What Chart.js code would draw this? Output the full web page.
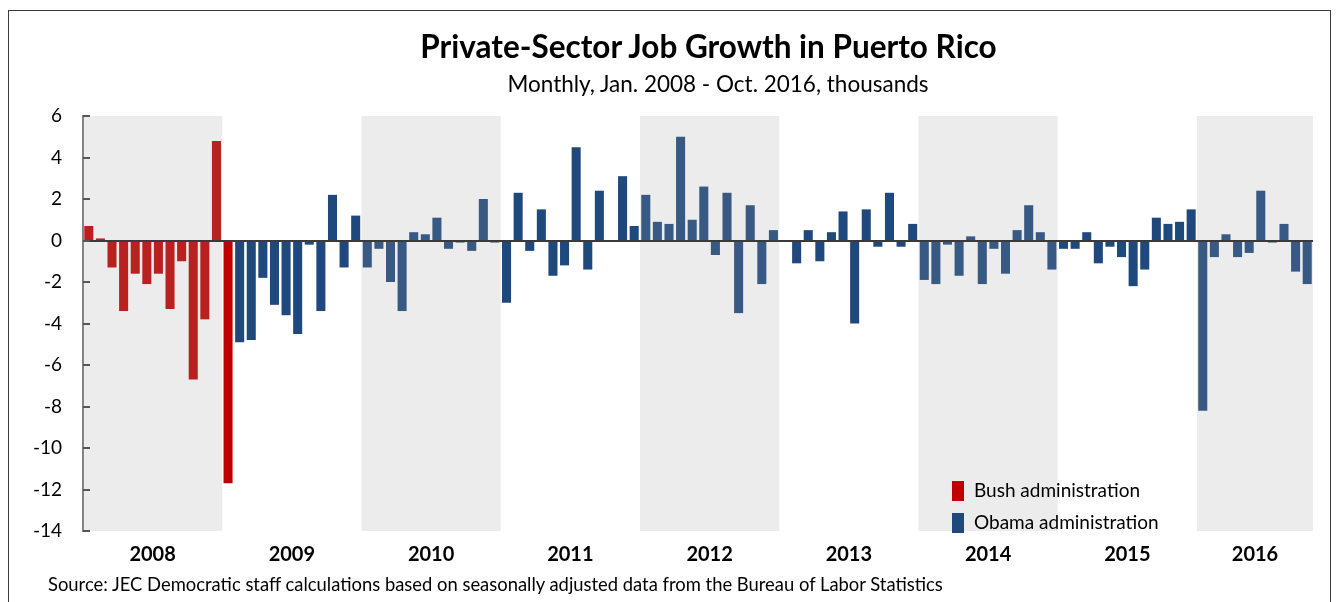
<!DOCTYPE html>
<html>
<head>
<meta charset="utf-8">
<script src="https://cdn.jsdelivr.net/npm/chart.js@4.4.1/dist/chart.umd.min.js"></script>
<style>
  body { margin: 0; background: #fff; }
  #frame { position: absolute; left: 8px; top: 10px; width: 1321px; height: 600px;
           border: 1.5px solid #3c3c3c; border-bottom: none; }
  #title { position: absolute; top: 27px; left: 0; width: 1417px; text-align: center;
           font: bold 31.5px Lato, sans-serif; color: #000; }
  #subtitle { position: absolute; top: 70px; left: 0; width: 1436px; text-align: center;
              font: 22.5px Lato, sans-serif; color: #000; }
  #source { position: absolute; top: 573px; left: 48px; font: 18.4px Lato, sans-serif; color: #000; }
  #wrap { position: absolute; left: 0; top: 0; width: 1338px; height: 602px; }
</style>
</head>
<body>
<div id="frame"></div>
<div id="wrap"><canvas id="jobChart" width="1338" height="602"></canvas></div>
<div id="title">Private-Sector Job Growth in Puerto Rico</div>
<div id="subtitle">Monthly, Jan. 2008 - Oct. 2016, thousands</div>
<div id="source">Source: JEC Democratic staff calculations based on seasonally adjusted data from the Bureau of Labor Statistics</div>
<script>
// tick labels along the bottom
var years = ['2008', '2009', '2010', '2011', '2012', '2013', '2014', '2015', '2016'];
var monthsInYear = [12, 12, 12, 12, 12, 12, 12, 12, 10];
var shadedYears = ['2008', '2010', '2012', '2014', '2016'];

// monthly change, thousands, Jan 2008 .. Oct 2016
var v2008 = [0.7, 0.1, -1.3, -3.4, -1.6, -2.1, -1.6, -3.3, -1.0, -6.7, -3.8, 4.8];
var v2009 = [-11.7, -4.9, -4.8, -1.8, -3.1, -3.6, -4.5, -0.2, -3.4, 2.2, -1.3, 1.2];
var v2010 = [-1.3, -0.4, -2.0, -3.4, 0.4, 0.3, 1.1, -0.4, -0.1, -0.5, 2.0, -0.1];
var v2011 = [-3.0, 2.3, -0.5, 1.5, -1.7, -1.2, 4.5, -1.4, 2.4, 0.0, 3.1, 0.7];
var v2012 = [2.2, 0.9, 0.8, 5.0, 1.0, 2.6, -0.7, 2.3, -3.5, 1.7, -2.1, 0.5];
var v2013 = [0.0, -1.1, 0.5, -1.0, 0.4, 1.4, -4.0, 1.5, -0.3, 2.3, -0.3, 0.8];
var v2014 = [-1.9, -2.1, -0.2, -1.7, 0.2, -2.1, -0.4, -1.6, 0.5, 1.7, 0.4, -1.4];
var v2015 = [-0.4, -0.4, 0.4, -1.1, -0.3, -0.8, -2.2, -1.4, 1.1, 0.8, 0.9, 1.5];
var v2016 = [-8.2, -0.8, 0.3, -0.8, -0.6, 2.4, -0.1, 0.8, -1.5, -2.1];

var bushMonths = 13; // Jan 2008 - Jan 2009

var allValues = [].concat(v2008, v2009, v2010, v2011, v2012, v2013, v2014, v2015, v2016);
var labels = [];
years.forEach(function (y, i) {
  for (var m = 1; m <= monthsInYear[i]; m++) labels.push(y + '-' + m);
});
var bushData = allValues.map(function (v, i) { return i < bushMonths ? v : null; });
var obamaData = allValues.map(function (v, i) { return i >= bushMonths ? v : null; });

// year starts in month units for the linear helper axis
var yearStart = [];
var acc = 0;
monthsInYear.forEach(function (n) { yearStart.push(acc); acc += n; });

var decor = {
  id: 'decor',
  afterDatasetsDraw: function (chart) {
    var ctx = chart.ctx, area = chart.chartArea;
    var xs = chart.scales.x2, ys = chart.scales.y;
    ctx.save();
    // shaded years (semi-transparent, over the bars)
    ctx.fillStyle = 'rgba(158,158,158,0.2)';
    years.forEach(function (y, i) {
      if (shadedYears.indexOf(y) < 0) return;
      var x0 = xs.getPixelForValue(yearStart[i]);
      var x1 = xs.getPixelForValue(yearStart[i] + monthsInYear[i]);
      ctx.fillRect(x0, area.top, x1 - x0, area.bottom - area.top);
    });
    // zero line
    var y0 = Math.round(ys.getPixelForValue(0));
    ctx.strokeStyle = '#3a3a3a';
    ctx.lineWidth = 2;
    ctx.beginPath();
    ctx.moveTo(area.left, y0);
    ctx.lineTo(area.right, y0);
    ctx.stroke();
    // inside tick marks on the y axis
    ctx.strokeStyle = '#555';
    ctx.lineWidth = 2;
    ys.ticks.forEach(function (t) {
      var py = Math.round(ys.getPixelForValue(t.value));
      ctx.beginPath();
      ctx.moveTo(area.left, py);
      ctx.lineTo(area.left + 7, py);
      ctx.stroke();
    });
    // legend inside plot
    ctx.font = '19px Lato, sans-serif';
    ctx.textBaseline = 'middle';
    chart.data.datasets.forEach(function (ds, i) {
      var ly = 491 + i * 32;
      ctx.fillStyle = ds.backgroundColor;
      ctx.fillRect(952, ly - 10, 12, 20);
      ctx.fillStyle = '#000';
      ctx.fillText(ds.label, 974, ly);
    });
    ctx.restore();
  }
};

var myContext = document.getElementById('jobChart').getContext('2d');
var myChart = new Chart(myContext, {
  type: 'bar',
  data: {
    labels: labels,
    datasets: [{
      label: 'Bush administration',
      backgroundColor: '#C00000',
      data: bushData
    }, {
      label: 'Obama administration',
      backgroundColor: '#1F487C',
      data: obamaData
    }]
  },
  options: {
    responsive: false,
    animation: false,
    devicePixelRatio: 1,
    barPercentage: 0.78,
    categoryPercentage: 1.0,
    layout: { padding: { top: 116, right: 25, left: 0, bottom: 31 } },
    plugins: {
      legend: { display: false },
      tooltip: { enabled: false }
    },
    scales: {
      x: {
        stacked: true,
        display: false
      },
      x2: {
        type: 'linear',
        position: 'bottom',
        offset: false,
        bounds: 'ticks',
        min: 0,
        max: allValues.length,
        grace: 0,
        grid: { display: false, offset: false },
        border: { display: false },
        afterBuildTicks: function (scale) {
          scale.ticks = yearStart.map(function (s, i) {
            return { value: s + monthsInYear[i] / 2 };
          });
        },
        afterFit: function (scale) { scale.height = 40; },
        ticks: {
          autoSkip: false,
          maxRotation: 0,
          padding: 4,
          color: '#000',
          font: { family: 'Lato', size: 20, weight: 'bold' },
          callback: function (value) {
            for (var i = 0; i < years.length; i++) {
              if (Math.abs(value - (yearStart[i] + monthsInYear[i] / 2)) < 0.01) return years[i];
            }
            return '';
          }
        }
      },
      y: {
        stacked: true,
        min: -14,
        max: 6,
        grid: { display: false },
        border: { display: true, color: '#808080', width: 2 },
        afterFit: function (scale) { scale.width = 83; },
        ticks: {
          stepSize: 2,
          padding: 13,
          color: '#000',
          font: { family: 'Lato', size: 19 }
        }
      }
    }
  },
  plugins: [decor]
});
</script>
</body>
</html>
